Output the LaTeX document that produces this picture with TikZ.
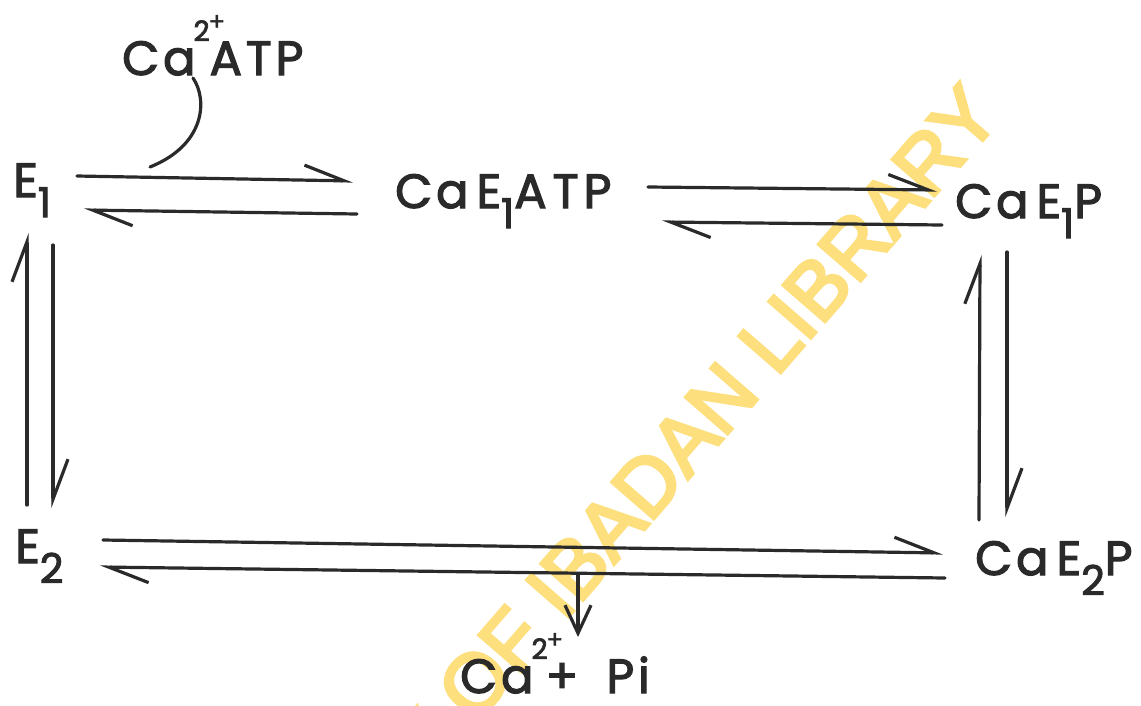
\documentclass[tikz,border=0pt]{standalone}
\usepackage{fontspec}
\setmainfont{Poppins}
\newfontfamily\lett{Poppins}[LetterSpace=8,FakeBold=2.5]
\newfontfamily\wmfont{Liberation Sans}[FakeBold=4]
\usetikzlibrary{arrows.meta}
\definecolor{ink}{HTML}{2A2A2A}
\definecolor{wm}{HTML}{FDDF7E}
\newcommand\sbs[1]{\raisebox{-20pt}{\fontsize{41}{41}\selectfont #1}}
\newcommand\chg{\kern-2pt\raisebox{34pt}{\fontsize{28}{28}\selectfont 2}\rlap{\raisebox{45pt}{\fontsize{24}{24}\selectfont\kern-1pt+}}}
\tikzset{
  lbl/.style={inner sep=0pt, anchor=base west, text=ink, font=\lett\fontsize{48}{50}\selectfont},
  hp/.style={draw=ink, line width=3.2pt, line cap=round,
    -{Straight Barb[harpoon,length=40pt,width=30pt,line width=3.2pt]}},
  dn/.style={draw=ink, line width=3.2pt, line cap=round,
    -{Straight Barb[length=28pt,width=26pt,line width=3.2pt]}},
  plain/.style={draw=ink, line width=3.2pt, line cap=round},
}
\begin{document}
\begin{tikzpicture}[x=1pt,y=-1pt]
\useasboundingbox (0,0) rectangle (1141,705);
\fill[white] (0,0) rectangle (1141,705);
% watermark
\begin{scope}
\clip (0,0) rectangle (1141,705);
\node[inner sep=0pt, anchor=base east, rotate=49, text=wm,
  font=\wmfont\fontsize{81}{81}\selectfont] (wmk) at (1003,117)
  {UNIVERSITY OF IBADAN LIBRARY};
\end{scope}
% species
\node[lbl] (caatp) at (122,75) {Ca\chg ATP};
\node[lbl] (E1) at (13,197) {E\sbs{1}};
\node[lbl] (CE1A) at (395,208) {Ca\,E\sbs{1}A\kern6pt T\kern5pt P};
\node[lbl] (CE1P) at (955,218) {Ca\,E\sbs{1}P};
\node[lbl] (E2) at (15,563) {E\sbs{2}};
\node[lbl] (CE2P) at (975,575) {Ca\,E\sbs{2}P};
\node[lbl] (capi) at (460,693) {Ca\chg\kern-2pt+\kern28pt Pi};
% connector end points
\coordinate (a1) at (77,176);  \coordinate (a2) at (353,181);
\coordinate (b1) at (357,214); \coordinate (b2) at (84,210);
\coordinate (c1) at (648,187); \coordinate (c2) at (937,190);
\coordinate (d1) at (942,225); \coordinate (d2) at (662,222);
\coordinate (e1) at (27,505);  \coordinate (e2) at (27,233);
\coordinate (f1) at (53,245);  \coordinate (f2) at (53,508);
\coordinate (g1) at (979,520); \coordinate (g2) at (980,255);
\coordinate (h1) at (1007,252);\coordinate (h2) at (1007,517);
\coordinate (i1) at (103,540); \coordinate (i2) at (943,553);
\coordinate (j1) at (945,578); \coordinate (j2) at (100,567);
\coordinate (k1) at (578,575); \coordinate (k2) at (578,637);
\coordinate (m1) at (193,78);  \coordinate (m2) at (150,167);
% E1 <=> CaE1ATP
\draw[hp] (a1) -- (a2);
\draw[hp] (b1) -- (b2);
% CaE1ATP <=> CaE1P
\draw[hp] (c1) -- (c2);
\draw[hp] (d1) -- (d2);
% E1 <=> E2
\draw[hp] (e1) -- (e2);
\draw[hp] (f1) -- (f2);
% CaE1P <=> CaE2P
\draw[hp] (g1) -- (g2);
\draw[hp] (h1) -- (h2);
% E2 <=> CaE2P
\draw[hp] (i1) -- (i2);
\draw[hp] (j1) -- (j2);
% release of Ca2+ + Pi
\draw[dn] (k1) -- (k2);
% binding of Ca2+ATP
\draw[plain] (m1) .. controls (208,100) and (205,145) .. (m2);
\end{tikzpicture}
\end{document}
